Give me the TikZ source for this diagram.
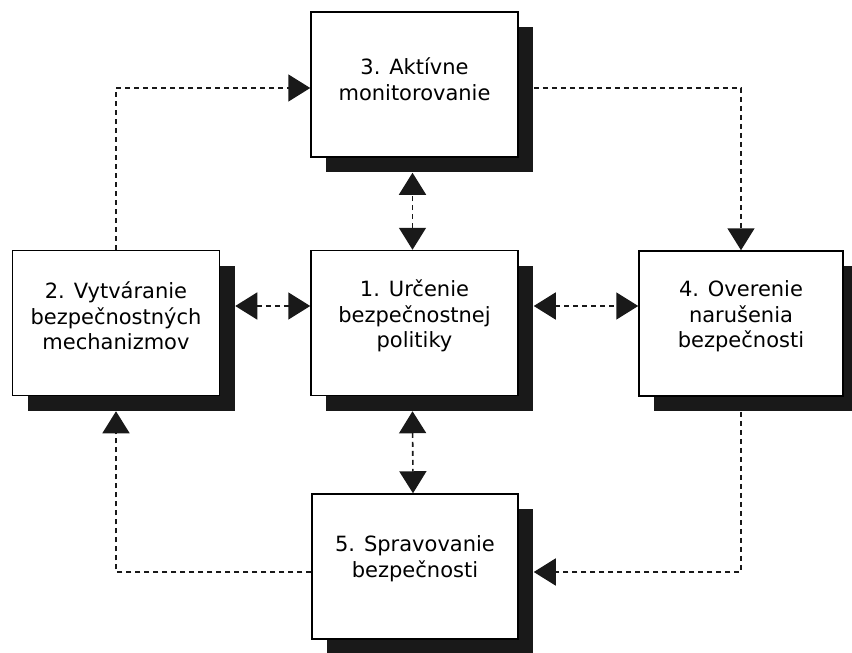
\documentclass[tikz,border=0pt]{standalone}
\usepackage{fontspec}
\setmainfont{DejaVu Sans}
\usetikzlibrary{arrows.meta,shadows}
\begin{document}
\begin{tikzpicture}[x=1pt,y=-1pt,
  box/.style={draw=black, line width=1.5pt, fill=white,
    minimum width=207pt, minimum height=145pt, inner sep=0pt,
    drop shadow={shadow xshift=15pt, shadow yshift=-15pt, fill=black!90, opacity=1}},
  lbl/.style={align=center, font=\fontsize{21}{25.5}\selectfont, inner sep=0pt},
  conn/.style={line width=1.6pt, dash pattern=on 5pt off 4pt, draw=black!90},
  tri/.tip={Triangle[length=22pt,width=27pt]},
  tip/.style={-tri},
  tips/.style={tri-tri}]
  \useasboundingbox (0,0) rectangle (852,653);

  % process boxes
  \node[box] (b3) at (414.5,84.5) {};
  \node[box] (b2) at (116,323) {};
  \node[box] (b1) at (414.5,323) {};
  \node[box, minimum width=204pt] (b4) at (741,323.5) {};
  \node[box, minimum width=206pt] (b5) at (415,566.5) {};

  % box captions
  \node[lbl] (t3) at ([yshift=5pt]b3.center) {3. Aktívne\\monitorovanie};
  \node[lbl] (t2) at ([yshift=7pt]b2.center) {2. Vytváranie\\bezpečnostných\\mechanizmov};
  \node[lbl] (t1) at ([yshift=7pt]b1.center) {1. Určenie\\bezpečnostnej\\politiky};
  \node[lbl] (t4) at ([yshift=7pt]b4.center) {4. Overenie\\narušenia\\bezpečnosti};
  \node[lbl] (t5) at ([yshift=8pt]b5.center) {5. Spravovanie\\bezpečnosti};

  % outer cycle
  \draw[conn, tip] (b2.north) |- ([yshift=-3.5pt]b3.west);
  \draw[conn, tip] ([xshift=15pt,yshift=-3.5pt]b3.east) -| (b4.north);
  \draw[conn, tip] ([yshift=-15pt]b4.south) |- ([xshift=15pt,yshift=-5.5pt]b5.east);
  \draw[conn, tip] ([yshift=-5.5pt]b5.west) -| ([yshift=-15pt]b2.south);

  % links to the central box
  \draw[conn, tips] ([xshift=-2pt]b1.north) -- ([xshift=-2pt,yshift=-15pt]b3.south);
  \draw[conn, tips] ([xshift=-2pt,yshift=-15pt]b1.south) -- ([xshift=-2pt]b5.north);
  \draw[conn, tips] ([xshift=15pt,yshift=17pt]b2.east) -- ([yshift=17pt]b1.west);
  \draw[conn, tips] ([xshift=15pt,yshift=17pt]b1.east) -- ([yshift=17.5pt]b4.west);
\end{tikzpicture}
\end{document}
